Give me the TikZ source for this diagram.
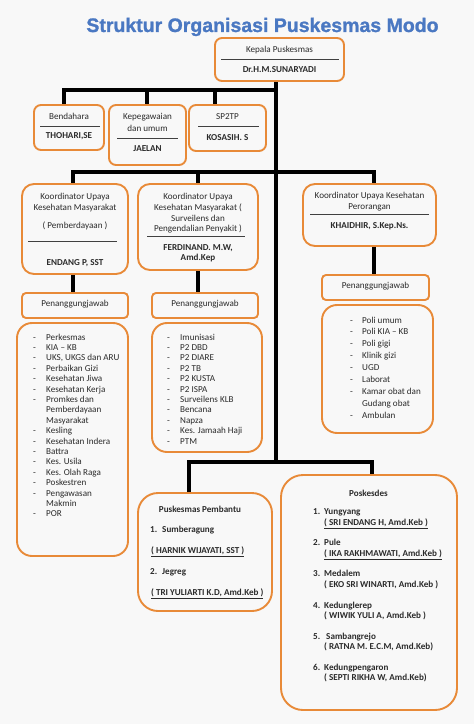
\documentclass[tikz,border=0pt]{standalone}
\usepackage{fontspec}
\setmainfont{Carlito}
\newfontfamily\titlefont{Liberation Sans}[FakeBold=1.2]
\definecolor{org}{HTML}{E88A38}
\definecolor{ttl}{HTML}{4A78C2}
\definecolor{bg}{HTML}{F8F8F8}
\definecolor{txt}{HTML}{2B2B2B}
\begin{document}
\begin{tikzpicture}[x=1bp,y=-1bp,
  box/.style={draw=org, line width=1.9bp, rounded corners=#1, inner sep=0pt},
  box/.default=7bp,
  conn/.style={line width=3.2bp, black, line join=miter},
  rule/.style={line width=0.8bp, black!75},
  lbl/.style={anchor=base, inner sep=0pt, text=txt, font=\fontsize{9.1bp}{10.4bp}\selectfont},
  bl/.style={lbl, font=\fontsize{9.1bp}{10.4bp}\selectfont\bfseries},
  lw/.style={lbl, anchor=base west},
  blw/.style={bl, anchor=base west}]
\fill[bg] (0,0) rectangle (474,724);
\useasboundingbox (0,0) rectangle (474,724);

% title
\node[anchor=base, inner sep=0pt, text=ttl, font=\titlefont\bfseries\fontsize{19.5bp}{20bp}\selectfont] (title) at (262.5,32) {Struktur Organisasi Puskesmas Modo};

% boxes
\node[box, minimum width=129bp, minimum height=43bp] (head) at (279.5,59.5) {};
\node[box, minimum width=70bp, minimum height=45bp] (bend) at (69,127.5) {};
\node[box, minimum width=77bp, minimum height=60bp] (kep) at (147.5,135) {};
\node[box, minimum width=77bp, minimum height=46bp] (sp) at (227.5,128) {};
\node[box=12bp, minimum width=106bp, minimum height=90bp] (k1) at (75,229) {};
\node[box=12bp, minimum width=120bp, minimum height=86bp] (k2) at (198,227) {};
\node[box=12bp, minimum width=133bp, minimum height=62bp] (k3) at (369.5,215) {};
\node[box=4bp, minimum width=106bp, minimum height=25bp] (p1) at (75,305.5) {};
\node[box=4bp, minimum width=106bp, minimum height=25bp] (p2) at (205,305.5) {};
\node[box=4bp, minimum width=107bp, minimum height=25bp] (p3) at (375.5,287.5) {};
\node[box=15bp, minimum width=111bp, minimum height=233bp] (l1) at (72.5,439.5) {};
\node[box=15bp, minimum width=110bp, minimum height=129bp] (l2) at (207,387.5) {};
\node[box=15bp, minimum width=111bp, minimum height=128bp] (l3) at (377.5,369) {};
\node[box=20bp, minimum width=134bp, minimum height=118bp] (pb) at (205,552) {};
\node[box=22bp, minimum width=176bp, minimum height=235bp] (pd) at (369,592.5) {};

% connectors
\coordinate (T) at (276,90);
\coordinate (d1) at (64,90);
\coordinate (d2) at (147,90);
\coordinate (d3) at (215,90);
\coordinate (e1) at (73,172);
\coordinate (e2) at (198,172);
\coordinate (e4) at (374,172);
\coordinate (f0) at (276,462);
\coordinate (f1) at (189,462);
\coordinate (f2) at (372,462);
\draw[conn] (T |- head.south) -- (f0);
\draw[conn] (d1 |- bend.north) -- (d1) -- (T);
\draw[conn] (d2) -- (d2 |- kep.north);
\draw[conn] (d3) -- (d3 |- sp.north);
\draw[conn] (e1 |- k1.north) -- (e1) -- (e4) -- (e4 |- k3.north);
\draw[conn] (e2) -- (e2 |- k2.north);
\draw[conn] (e1 |- k1.south) -- (e1 |- p1.north);
\draw[conn] (e2 |- k2.south) -- (e2 |- p2.north);
\draw[conn] (e4 |- k3.south) -- (e4 |- p3.north);
\draw[conn] (f1 |- pb.north) -- (f1) -- (f2) -- (f2 |- pd.north);

% rules in boxes
\draw[rule] (221,59) -- (339,59);
\draw[rule] (40,126) -- (100,126);
\draw[rule] (117,138) -- (178,138);
\draw[rule] (198,126) -- (259,126);
\draw[rule] (28,241) -- (117,241);
\draw[rule] (147,236) -- (245,236);
\draw[rule] (310,214) -- (429,214);

% texts top
\node[lbl] (h1) at (279.5,53) {Kepala Puskesmas};
\node[bl] (h2) at (279.5,73) {Dr.H.M.SUNARYADI};
\node[lbl] (b1) at (69,120) {Bendahara};
\node[bl] (b2) at (69,139) {THOHARI,SE};
\node[lbl] (kp1) at (147.5,120) {Kepegawaian};
\node[lbl] (kp2) at (147.5,132) {dan umum};
\node[bl] (kp3) at (147.5,151) {JAELAN};
\node[lbl] (s1) at (227.5,120) {SP2TP};
\node[bl] (s2) at (227.5,141) {KOSASIH. S};

\node[lbl] (ka1) at (75,199) {Koordinator Upaya};
\node[lbl] (ka2) at (75,210) {Kesehatan Masyarakat};
\node[lbl] (ka3) at (75,228) {( Pemberdayaan )};
\node[bl] (ka4) at (75,265) {ENDANG P, SST};
\node[lbl] (kb1) at (198,199) {Koordinator Upaya};
\node[lbl] (kb2) at (198,210) {Kesehatan Masyarakat (};
\node[lbl] (kb3) at (198,221) {Surveilens dan};
\node[lbl] (kb4) at (198,231) {Pengendalian Penyakit )};
\node[bl] (kb5) at (198,250) {FERDINAND. M.W,};
\node[bl] (kb6) at (198,260) {Amd.Kep};
\node[lbl] (kc1) at (369.5,198) {Koordinator Upaya Kesehatan};
\node[lbl] (kc2) at (369.5,209) {Perorangan};
\node[bl] (kc3) at (369.5,228) {KHAIDHIR, S.Kep.Ns.};

\node[lbl] (pt1) at (75,306) {Penanggungjawab};
\node[lbl] (pt2) at (205,306) {Penanggungjawab};
\node[lbl] (pt3) at (375.5,288) {Penanggungjawab};

% lists
\foreach \d/\t [count=\i from 0] in {1/Perkesmas, 1/KIA -- KB, 1/{UKS, UKGS dan ARU}, 1/Perbaikan Gizi, 1/Kesehatan Jiwa, 1/Kesehatan Kerja, 1/Promkes dan, 0/Pemberdayaan, 0/Masyarakat, 1/Kesling, 1/Kesehatan Indera, 1/Battra, 1/Kes. Usila, 1/Kes. Olah Raga, 1/Poskestren, 1/Pengawasan, 0/Makmin, 1/POR}{
  \ifnum\d=1 \node[lw] (la\i) at (33,340+10.4*\i) {-};\fi
  \node[lw] (lat\i) at (46,340+10.4*\i) {\t};
}
\foreach \t [count=\i from 0] in {Imunisasi, P2 DBD, P2 DIARE, P2 TB, P2 KUSTA, P2 ISPA, Surveilens KLB, Bencana, Napza, Kes. Jamaah Haji, PTM}{
  \node[lw] (lb\i) at (167,340+10.4*\i) {-};
  \node[lw] (lbt\i) at (180,340+10.4*\i) {\t};
}
\foreach \d/\t [count=\i from 0] in {1/Poli umum, 1/Poli KIA -- KB, 1/Poli gigi, 1/Klinik gizi, 1/UGD, 1/Laborat, 1/Kamar obat dan, 0/Gudang obat, 1/Ambulan}{
  \ifnum\d=1 \node[lw] (lc\i) at (350,323+11.9*\i) {-};\fi
  \node[lw] (lct\i) at (362,323+11.9*\i) {\t};
}

% Puskesmas Pembantu
\node[bl] (pbt) at (200,512) {Puskesmas Pembantu};
\node[blw] (pbn1) at (150,532) {1.};
\node[blw] (pbi1) at (162,532) {Sumberagung};
\node[blw] (pbp1) at (151,553) {\underline{( HARNIK WIJAYATI, SST )}};
\node[blw] (pbn2) at (150,574) {2.};
\node[blw] (pbi2) at (162,574) {Jegreg};
\node[blw] (pbp2) at (151,595) {\underline{( TRI YULIARTI K.D, Amd.Keb )}};

% Poskesdes
\node[bl] (pdt) at (368.5,496) {Poskesdes};
\node[blw] (pdn1) at (313,514) {1.};
\node[blw] (pdi1) at (324,514) {Yungyang};
\node[blw] (pdp1) at (324,525) {\underline{( SRI ENDANG H, Amd.Keb )}};
\node[blw] (pdn2) at (313,545) {2.};
\node[blw] (pdi2) at (324,545) {Pule};
\node[blw] (pdp2) at (324,556) {\underline{( IKA RAKHMAWATI, Amd.Keb )}};
\node[blw] (pdn3) at (313,576) {3.};
\node[blw] (pdi3) at (324,576) {Medalem};
\node[blw] (pdp3) at (324,587) {( EKO SRI WINARTI, Amd.Keb )};
\node[blw] (pdn4) at (313,608) {4.};
\node[blw] (pdi4) at (324,608) {Kedunglerep};
\node[blw] (pdp4) at (324,618) {( WIWIK YULI A, Amd.Keb )};
\node[blw] (pdn5) at (313,639) {5.};
\node[blw] (pdi5) at (326,639) {Sambangrejo};
\node[blw] (pdp5) at (324,649) {( RATNA M. E.C.M, Amd.Keb)};
\node[blw] (pdn6) at (313,670) {6.};
\node[blw] (pdi6) at (324,670) {Kedungpengaron};
\node[blw] (pdp6) at (324,680) {( SEPTI RIKHA W, Amd.Keb)};
\end{tikzpicture}
\end{document}
